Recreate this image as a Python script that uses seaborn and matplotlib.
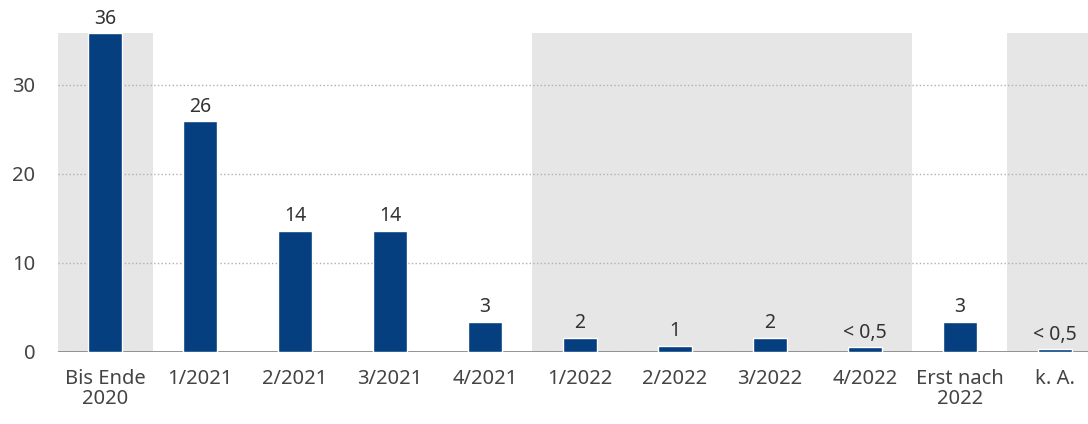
import pandas as pd
import matplotlib.pyplot as plt
import seaborn as sns

# Datos
kategorien = ["Bis Ende\n2020", "1/2021", "2/2021", "3/2021", "4/2021", "1/2022",
              "2/2022", "3/2022", "4/2022", "Erst nach\n2022", "k. A."]
werte = [35.8, 25.9, 13.6, 13.6, 3.4, 1.6, 0.7, 1.6, 0.5, 3.4, 0.3]
beschriftungen = ["36", "26", "14", "14", "3", "2", "1", "2", "< 0,5", "3", "< 0,5"]
# Kategorien mit grauem Hintergrund
grau_bereiche = [(0, 0), (5, 8), (10, 10)]

df = pd.DataFrame({"kategorie": kategorien, "wert": werte})

sns.set_style("white")
plt.rcParams["font.family"] = ["Noto Sans", "DejaVu Sans"]

fig = plt.figure(figsize=(10.88, 4.24), dpi=100)
ax = fig.add_axes([0.053, 0.170, 0.947, 0.752])

for start, ende in grau_bereiche:
    ax.axvspan(start - 0.5, ende + 0.5, color="#e6e6e6", zorder=0, lw=0)

sns.barplot(data=df, x="kategorie", y="wert", color="#053f80", width=0.36,
            saturation=1, ax=ax, zorder=3)

for i, (w, txt) in enumerate(zip(werte, beschriftungen)):
    ax.text(i, w + 0.5, txt, ha="center", va="bottom", fontsize=14,
            color="#333333", zorder=4)

ax.set_xlim(-0.5, 10.35)
ax.set_ylim(0, 35.8)
ax.set_yticks([0, 10, 20, 30])
ax.yaxis.grid(True, linestyle=":", color="#b0b0b0", linewidth=1, zorder=1)
ax.set_axisbelow(True)
ax.axhline(0, color="#8a8a8a", linewidth=2, zorder=2)
for s in ax.spines.values():
    s.set_visible(False)
ax.set_xlabel("")
ax.set_ylabel("")
ax.tick_params(axis="both", length=0, labelsize=14.5, labelcolor="#444444")
ax.tick_params(axis="x", pad=12)
ax.tick_params(axis="y", pad=16)
for lab in ax.get_xticklabels():
    lab.set_linespacing(1.0)

fig.savefig("out.png", dpi=100)
